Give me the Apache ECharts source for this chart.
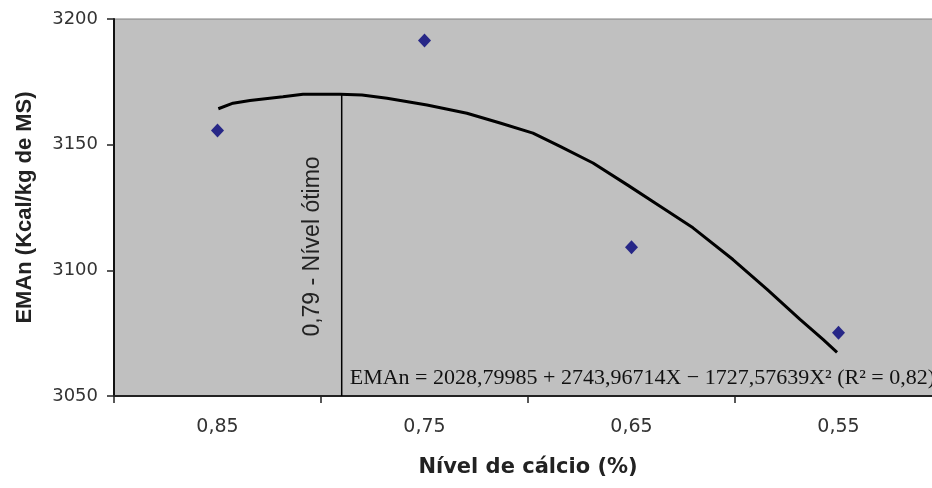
<!DOCTYPE html>
<html>
<head>
<meta charset="utf-8">
<script src="https://cdn.jsdelivr.net/npm/echarts@6/dist/echarts.min.js"></script>
<style>
html,body{margin:0;padding:0;background:#fff;overflow:hidden;width:932px;height:488px;}
#c{width:942px;height:488px;}
</style>
</head>
<body>
<div id="c"></div>
<script>
// ---- data ----
const categoryLabels = ['0,85', '0,75', '0,65', '0,55'];
const calcioLevels = [0.85, 0.75, 0.65, 0.55];
const emanValues = [3155.6, 3191.4, 3109.2, 3075.2];

const curveX = [0.8496, 0.8425, 0.8343, 0.8184, 0.8087, 0.7908, 0.7802, 0.7681, 0.7488, 0.7295, 0.7135,
                0.6976, 0.6845, 0.6686, 0.6522, 0.6362, 0.6203, 0.6010, 0.5845, 0.5686, 0.5575, 0.5507];
const curveY = [3164.3, 3166.5, 3167.6, 3169.1, 3170.1, 3170.1, 3169.8, 3168.5, 3165.8, 3162.5, 3158.6,
                3154.6, 3149.3, 3142.7, 3134.1, 3125.5, 3116.9, 3104.3, 3092.4, 3080.5, 3072.5, 3067.4];

const optimumX = 0.79;
const optimumTop = 3170.1;
const yMin = 3050, yMax = 3200, yStep = 50;
const xMin = 0.5, xMax = 0.9, xStep = 0.1;

const optimumLabel = '0,79 - Nível ótimo';
const equationLabel = 'EMAn = 2028,79985 + 2743,96714X \u2212 1727,57639X\u00B2 (R\u00B2 = 0,82)';
const yTitle = 'EMAn (Kcal/kg de MS)';
const xTitle = 'Nível de cálcio (%)';

// ---- chart ----
const chart = echarts.init(document.getElementById('c'), null, {renderer: 'canvas', width: 942, height: 488});

const scatterData = calcioLevels.map((x, i) => [x, emanValues[i]]);
const curveData = curveX.map((x, i) => [x, curveY[i]]);
const optimumLine = [[optimumX, optimumTop], [optimumX, yMin]];

chart.setOption({
  animation: false,
  backgroundColor: '#ffffff',
  grid: {
    left: 114, top: 19, right: 0, bottom: 92,
    show: true, backgroundColor: '#c0c0c0', borderColor: '#808080', borderWidth: 1
  },
  xAxis: [
    {
      type: 'value', min: xMin, max: xMax, interval: xStep, inverse: true, position: 'bottom',
      axisLine: {show: true, onZero: false, lineStyle: {color: '#222', width: 2}},
      axisTick: {show: true, inside: false, length: 7, lineStyle: {color: '#222', width: 1.5}},
      axisLabel: {show: false},
      splitLine: {show: false},
      name: xTitle, nameLocation: 'middle', nameGap: 61,
      nameTextStyle: {fontFamily: 'DejaVu Sans', fontWeight: 'bold', fontSize: 21, color: '#222'}
    },
    {
      type: 'category', data: categoryLabels, boundaryGap: true, position: 'bottom',
      axisLine: {show: false}, axisTick: {show: false}, splitLine: {show: false},
      axisLabel: {show: true, margin: 22, fontFamily: 'DejaVu Sans', fontSize: 19, color: '#333'}
    }
  ],
  yAxis: {
    type: 'value', min: yMin, max: yMax, interval: yStep,
    axisLine: {show: true, onZero: false, lineStyle: {color: '#111', width: 2}},
    axisTick: {show: true, inside: false, length: 7, lineStyle: {color: '#222', width: 1.5}},
    axisLabel: {margin: 16, fontFamily: 'DejaVu Sans', fontSize: 18, color: '#333',
                formatter: v => String(v)},
    splitLine: {show: false},
    name: yTitle, nameLocation: 'middle', nameGap: 78,
    nameTextStyle: {fontFamily: 'Liberation Sans', fontWeight: 'bold', fontSize: 22, color: '#222'}
  },
  series: [
    {
      type: 'line', xAxisIndex: 0, data: curveData, showSymbol: false, smooth: false,
      lineStyle: {color: '#000', width: 3}, z: 3
    },
    {
      type: 'scatter', xAxisIndex: 0, data: scatterData, symbol: 'diamond', symbolSize: [13, 14],
      itemStyle: {color: '#000078'}, z: 4
    },
    {
      type: 'line', xAxisIndex: 0, data: optimumLine, showSymbol: false,
      lineStyle: {color: '#000', width: 1.5}, z: 2
    }
  ]
});

const lineTop = chart.convertToPixel({seriesIndex: 2}, [optimumX, yMin + (yMax - yMin) * 0.3966]);
const lineBottom = chart.convertToPixel({seriesIndex: 2}, [optimumX, yMin]);

chart.setOption({
  graphic: [
    {
      type: 'text', x: lineTop[0] - 29, y: lineTop[1], rotation: Math.PI / 2,
      style: {text: optimumLabel, fontFamily: 'Liberation Sans', fontSize: 23, fill: '#222',
              align: 'center', verticalAlign: 'middle'}, z: 10
    },
    {
      type: 'text', x: lineBottom[0] + 8, y: lineBottom[1] - 18,
      style: {text: equationLabel, fontFamily: 'Liberation Serif', fontSize: 22, fill: '#111',
              align: 'left', verticalAlign: 'middle'}, z: 10
    }
  ]
});
</script>
</body>
</html>
